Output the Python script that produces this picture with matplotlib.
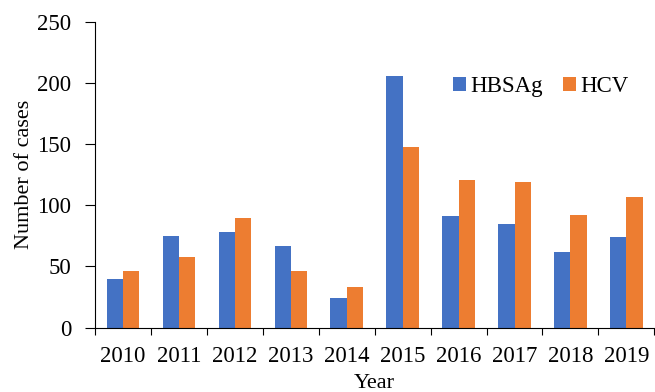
import numpy as np
import matplotlib
matplotlib.use("Agg")
import matplotlib.pyplot as plt

years = ["2010", "2011", "2012", "2013", "2014", "2015", "2016", "2017", "2018", "2019"]
hbsag = [40, 75, 78, 67, 24, 206, 91, 85, 62, 74]
hcv = [46, 58, 90, 46, 33, 148, 121, 119, 92, 107]

plt.rcParams["font.family"] = ["Liberation Serif", "DejaVu Serif"]

fig = plt.figure(figsize=(6.55, 3.92), dpi=100)
ax = fig.add_axes([0.145, 0.1645, 0.854, 0.7795])

x = np.arange(len(years))
w = 0.29
ax.bar(x - w / 2, hbsag, w, color="#4472C4", label="HBSAg")
ax.bar(x + w / 2, hcv, w, color="#ED7D31", label="HCV")

ax.set_xlim(-0.5, len(years) - 0.5)
ax.set_ylim(0, 250)
ax.set_yticks([0, 50, 100, 150, 200, 250])

# ticks at group boundaries, labels at group centres
ax.set_xticks(np.arange(-0.5, len(years), 1))
ax.set_xticklabels([])
ax.set_xticks(x, minor=True)
ax.set_xticklabels(years, minor=True)
ax.tick_params(axis="x", which="major", length=5, direction="out")
ax.tick_params(axis="x", which="minor", length=0, pad=13, labelsize=16.5)
ax.tick_params(axis="y", length=7, labelsize=16.5, pad=10)

for s in ["top", "right"]:
    ax.spines[s].set_visible(False)

ax.set_ylabel("Number of cases", fontsize=16, labelpad=2)
ax.set_xlabel("Year", fontsize=16, labelpad=5)

ax.legend(loc="upper right", bbox_to_anchor=(0.975, 0.86), ncol=2, frameon=False,
          fontsize=16.5, handlelength=0.55, handleheight=0.55, handletextpad=0.2,
          columnspacing=0.9, borderpad=0)

fig.savefig("out.png", dpi=100)
